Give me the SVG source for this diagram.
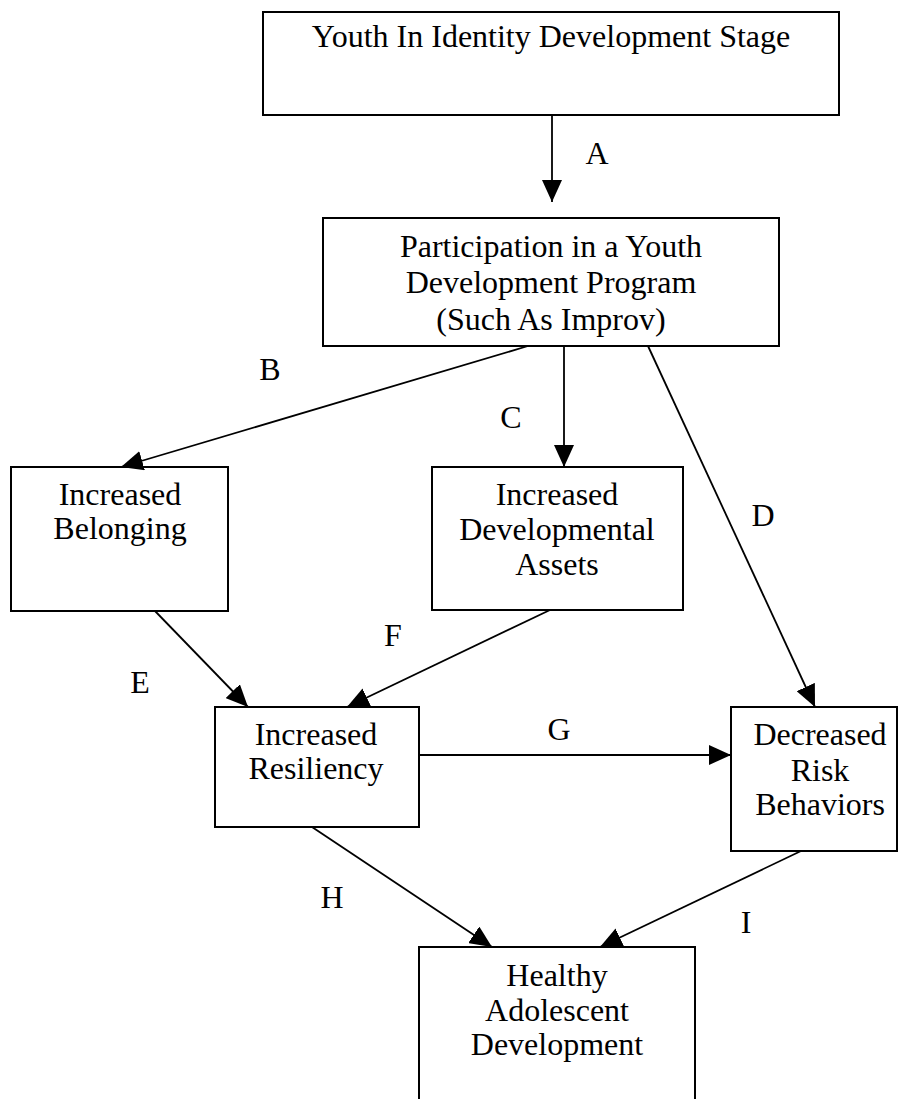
<svg xmlns="http://www.w3.org/2000/svg" width="899" height="1099" viewBox="0 0 899 1099">
<style>
.box{fill:#fff;stroke:#000;stroke-width:2}
.t{font-family:"Liberation Serif","Times New Roman",serif;font-size:32px;fill:#000;text-anchor:middle}
.c{stroke:#000;stroke-width:1.8;fill:none;marker-end:url(#ah)}
</style>
<defs>
<marker id="ah" markerUnits="userSpaceOnUse" markerWidth="22" markerHeight="20" refX="22" refY="10" orient="auto" viewBox="0 0 22 20">
<path d="M0,0 L22,10 L0,20 z" fill="#000"/>
</marker>
</defs>
<rect width="899" height="1099" fill="#fff"/>
<g id="n-youth">
<rect class="box" x="263" y="12" width="576" height="103"/>
<text class="t" x="551" y="47">Youth In Identity Development Stage</text>
</g>
<g id="n-participation">
<rect class="box" x="323" y="218" width="456" height="128"/>
<text class="t" x="551" y="257">Participation in a Youth</text>
<text class="t" x="551" y="293">Development Program</text>
<text class="t" x="551" y="330">(Such As Improv)</text>
</g>
<g id="n-belonging">
<rect class="box" x="11" y="467" width="217" height="144"/>
<text class="t" x="120" y="505">Increased</text>
<text class="t" x="120" y="539">Belonging</text>
</g>
<g id="n-assets">
<rect class="box" x="432" y="467" width="251" height="143"/>
<text class="t" x="557" y="505">Increased</text>
<text class="t" x="557" y="540">Developmental</text>
<text class="t" x="557" y="575">Assets</text>
</g>
<g id="n-resiliency">
<rect class="box" x="215" y="707" width="204" height="120"/>
<text class="t" x="316" y="745">Increased</text>
<text class="t" x="316" y="779">Resiliency</text>
</g>
<g id="n-risk">
<rect class="box" x="731" y="707" width="166" height="144"/>
<text class="t" x="820" y="745">Decreased</text>
<text class="t" x="820" y="781">Risk</text>
<text class="t" x="820" y="815">Behaviors</text>
</g>
<g id="n-healthy">
<rect class="box" x="419" y="947" width="276" height="170"/>
<text class="t" x="557" y="986">Healthy</text>
<text class="t" x="557" y="1021">Adolescent</text>
<text class="t" x="557" y="1055">Development</text>
</g>
<g id="connectors">
<line class="c" x1="552" y1="115" x2="552" y2="202"/>
<line class="c" x1="528" y1="346" x2="121" y2="467"/>
<line class="c" x1="564" y1="346" x2="564" y2="467"/>
<line class="c" x1="648" y1="346" x2="815" y2="707"/>
<line class="c" x1="155" y1="611" x2="248" y2="707"/>
<line class="c" x1="550" y1="610" x2="347" y2="707"/>
<line class="c" x1="419" y1="755" x2="731" y2="755"/>
<line class="c" x1="312" y1="827" x2="492" y2="947"/>
<line class="c" x1="801" y1="851" x2="600" y2="947"/>
<text class="t" x="597" y="164">A</text>
<text class="t" x="270" y="380">B</text>
<text class="t" x="511" y="428">C</text>
<text class="t" x="763" y="526">D</text>
<text class="t" x="140" y="693">E</text>
<text class="t" x="393" y="646">F</text>
<text class="t" x="559" y="740">G</text>
<text class="t" x="332" y="908">H</text>
<text class="t" x="746" y="933">I</text>
</g>
</svg>
